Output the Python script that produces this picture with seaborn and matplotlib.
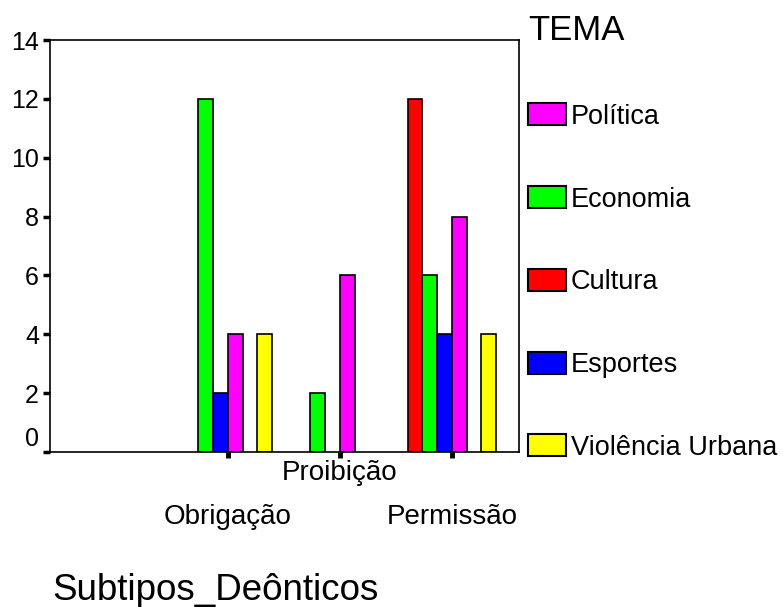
import pandas as pd
import matplotlib
matplotlib.use("Agg")
import matplotlib.pyplot as plt
import matplotlib.transforms as mtransforms
from matplotlib.patches import Patch
import seaborn as sns

# --- data (counts) ----------------------------------------------------
subtipos = ["Obrigação", "Proibição", "Permissão"]
temas = ["Cultura", "Economia", "Esportes", "Política", "Violência Urbana"]
cultura = [0, 0, 12]
economia = [12, 2, 6]
esportes = [2, 0, 4]
politica = [4, 6, 8]
violencia = [4, 0, 4]

# empty slot between Política and Violência Urbana (level with no cases)
hue_slots = ["Cultura", "Economia", "Esportes", "Política", "(sem casos)", "Violência Urbana"]
legend_order = ["Política", "Economia", "Cultura", "Esportes", "Violência Urbana"]

COLORS = {
    "Cultura": "#ff0000",
    "Economia": "#00ff00",
    "Esportes": "#0000ff",
    "Política": "#ff00ff",
    "(sem casos)": "#ffffff",
    "Violência Urbana": "#ffff00",
}

rows = []
for tema, vals in zip(temas, [cultura, economia, esportes, politica, violencia]):
    for sub, v in zip(subtipos, vals):
        if v > 0:
            rows.append({"Subtipo": sub, "Tema": tema, "Contagem": v})
df = pd.DataFrame(rows)

# --- plot --------------------------------------------------------------
sns.set_theme(style="white")
plt.rcParams["font.family"] = ["Liberation Sans", "DejaVu Sans"]
plt.rcParams["text.color"] = "black"
plt.rcParams["xtick.color"] = "black"
plt.rcParams["ytick.color"] = "black"

fig = plt.figure(figsize=(7.83, 6.07), dpi=100)
ax = fig.add_axes([50 / 783, 1 - 452 / 607, 469 / 783, 412 / 607])

sns.barplot(data=df, x="Subtipo", y="Contagem", hue="Tema",
            order=subtipos, hue_order=hue_slots, palette=COLORS,
            saturation=1, width=0.79, edgecolor="black", linewidth=1.2,
            errorbar=None, legend=False, ax=ax)

ax.set_xlim(-1.59, 2.6)
ax.set_ylim(0, 14)
ax.set_yticks(range(0, 15, 2))
ax.set_xlabel("")
ax.set_ylabel("")

for sp in ax.spines.values():
    sp.set_visible(True)
    sp.set_color("black")
    sp.set_linewidth(1.2)

ax.tick_params(axis="y", which="major", direction="out", length=5, width=2.5,
               color="black", labelcolor="black", labelsize=18, pad=3, left=True)
ax.tick_params(axis="x", which="major", direction="out", length=4, width=3.5,
               color="black", labelcolor="black", labelsize=20, pad=2, bottom=True)

# staggered category labels
shift_down = mtransforms.ScaledTranslation(0, -0.44, fig.dpi_scale_trans)
for lab in ax.get_xticklabels():
    if lab.get_text() != "Proibição":
        lab.set_transform(lab.get_transform() + shift_down)

# the zero label sits a bit above its tick
shift_up = mtransforms.ScaledTranslation(0, 0.15, fig.dpi_scale_trans)
for lab in ax.get_yticklabels():
    if lab.get_text() == "0":
        lab.set_transform(lab.get_transform() + shift_up)

handles = [Patch(facecolor=COLORS[t], edgecolor="black", linewidth=1.5, label=t)
           for t in legend_order]
leg = fig.legend(handles=handles, title="TEMA", loc="upper left",
                 bbox_to_anchor=(528 / 783, 1 - 14 / 607), frameon=False,
                 fontsize=19.5, title_fontsize=25, alignment="left",
                 handlelength=1.4, handleheight=0.88, handletextpad=0.18,
                 labelspacing=2.08, borderpad=0, borderaxespad=0)

fig.text(52 / 783, 1 - 591 / 607, "Subtipos_Deônticos", fontsize=26.5,
         ha="left", va="center")

fig.savefig("out.png", dpi=100)
